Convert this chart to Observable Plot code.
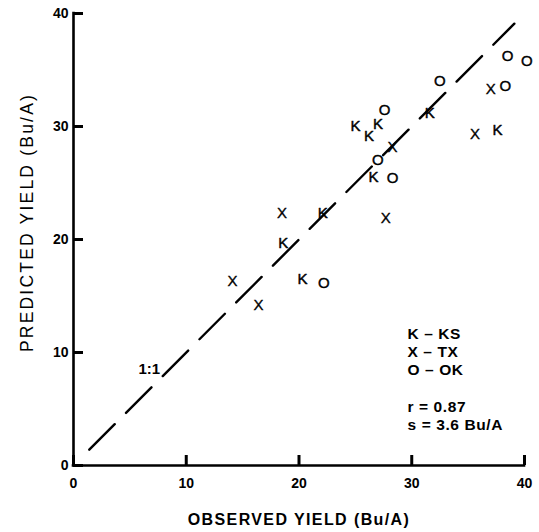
<!DOCTYPE html>
<html><head><meta charset="utf-8">
<script src="https://cdn.jsdelivr.net/npm/d3@7"></script>
<script src="https://cdn.jsdelivr.net/npm/@observablehq/plot@0.6"></script>
<style>
body{margin:0;background:#fff;}
svg{display:block;}
</style></head><body><div id="chart"></div>
<script>
// Data
const states    = ["O","O","O","X","O","K","O","K","K","K","X","X","K","O","K","O","X","K","X","K","X","X","K","O"];
const observed  = [38.5,40.2,32.5,37.0,38.3,31.6,27.6,27.0,26.2,25.0,28.3,35.6,37.6,27.0,26.6,28.3,18.5,22.1,27.7,18.6,14.1,16.4,20.3,22.2];
const predicted = [36.2,35.8,34.0,33.3,33.6,31.2,31.4,30.2,29.1,30.0,28.2,29.3,29.7,27.0,25.5,25.4,22.3,22.3,21.9,19.7,16.3,14.2,16.5,16.1];
const xTicks = [0,10,20,30,40];
const yTicks = [0,10,20,30,40];
const oneToOne = [1.4, 39.1];
const oneToOneLabel = ["1:1"];
const legendLines = ["K \u2013 KS","X \u2013 TX","O \u2013 OK","","r = 0.87","s = 3.6 Bu/A"];
const xTitle = "OBSERVED YIELD (Bu/A)";
const yTitle = "PREDICTED YIELD (Bu/A)";

const points = states.map((s,i)=>({state:s, obs:observed[i], pred:predicted[i]}));
const font = "'Liberation Sans', Arial, Helvetica, sans-serif";
const W = 539, H = 532, mL = 73, mR = 15, mT = 13, mB = 67;
const tickPx = 10; // inward tick length in pixels (styling)

const chart = Plot.plot({
  width:W, height:H,
  marginLeft:mL, marginRight:mR, marginTop:mT, marginBottom:mB,
  style:{fontFamily:font, background:"#fff", color:"#000"},
  x:{domain:[0,40]},
  y:{domain:[0,40]},
  marks:[
    Plot.line(oneToOne, {x:d=>d, y:d=>d, stroke:"#000", strokeWidth:2.4, strokeDasharray:"36,16"}),
    Plot.text([oneToOne[0] + 7.1], {x:d=>d, y:d=>d, text:()=>oneToOneLabel[0], dx:-20, fontSize:15, fontWeight:"bold", fill:"#000"}),
    Plot.ruleX([0], {stroke:"#000", strokeWidth:2.6, strokeLinecap:"square"}),
    Plot.ruleY([0], {stroke:"#000", strokeWidth:2.6, strokeLinecap:"square"}),
    // inward tick marks: full-frame ticks trimmed by insets
    Plot.tickX(xTicks, {x:d=>d, insetTop:(H - mT - mB) - tickPx, stroke:"#000", strokeWidth:3}),
    Plot.tickY(yTicks, {y:d=>d, insetRight:(W - mL - mR) - tickPx, stroke:"#000", strokeWidth:3}),
    Plot.axisX({ticks:xTicks, tickSize:0, tickPadding:13, fontSize:14, fontWeight:"bold", label:null, tickFormat:d=>String(d)}),
    Plot.axisY({ticks:yTicks, tickSize:0, tickPadding:5, fontSize:14, fontWeight:"bold", label:null, tickFormat:d=>String(d)}),
    Plot.text(points, {x:"obs", y:"pred", text:"state", fontSize:15, fill:"#000", stroke:"#000", strokeWidth:0.4}),
    Plot.text([legendLines.join("\n")], {frameAnchor:"top-left", dx:334, dy:312, textAnchor:"start", lineAnchor:"top", lineHeight:1.18, fontSize:15.5, fontWeight:"bold", fill:"#000"}),
    Plot.text([xTitle], {frameAnchor:"bottom", lineAnchor:"middle", dy:54, fontSize:16, fontWeight:"bold", fill:"#000"}),
    Plot.text([yTitle], {frameAnchor:"left", textAnchor:"middle", lineAnchor:"middle", rotate:-90, dx:-46, dy:-17, fontSize:17.5, fill:"#000"})
  ]
});
// letter spacing to match the wide lettering of the original
d3.select(chart).selectAll("text").each(function(){
  const t = this.textContent;
  if (t === xTitle) this.style.letterSpacing = "1.4px";
  else if (t === yTitle) this.style.letterSpacing = "2.2px";
  else if (t.startsWith("K \u2013")) this.style.letterSpacing = "0.6px";
});
document.getElementById("chart").appendChild(chart);
</script>
</body></html>
